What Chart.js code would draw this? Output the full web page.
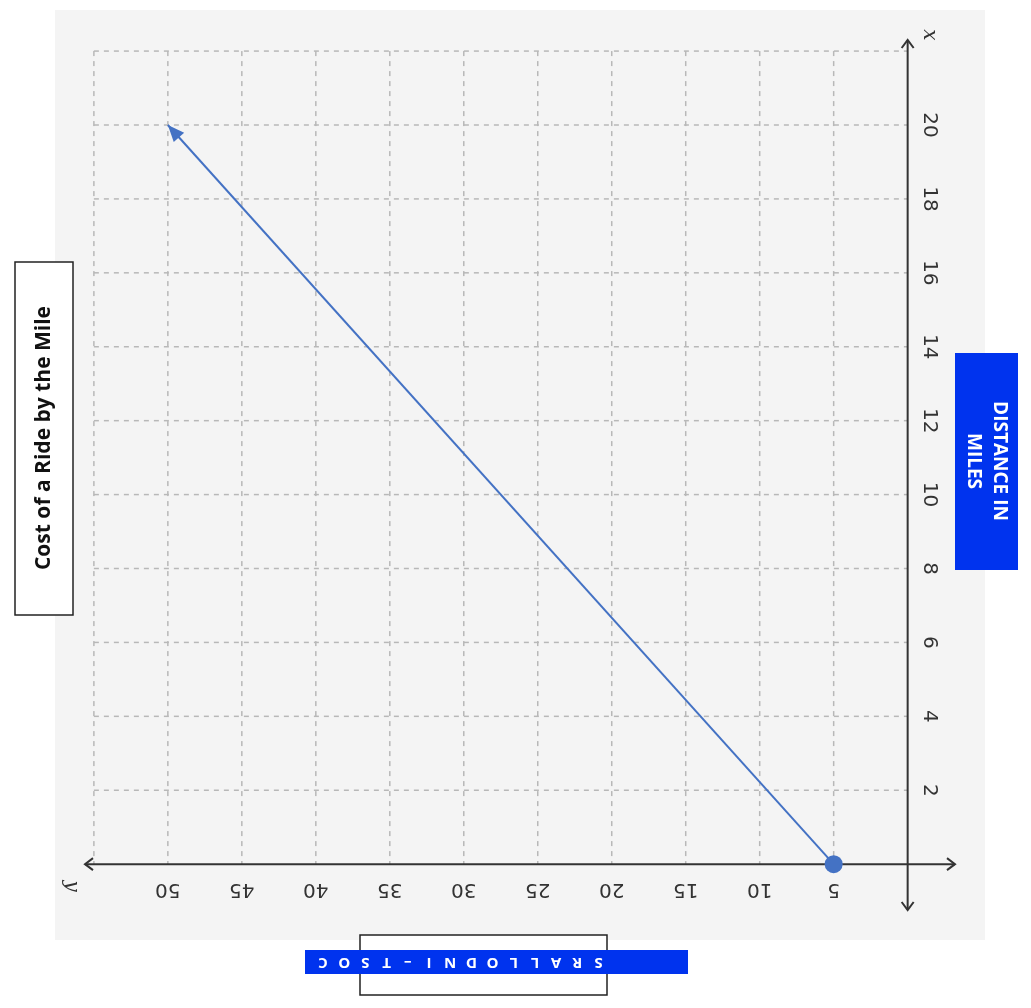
<!DOCTYPE html>
<html><head><meta charset="utf-8">
<script src="https://cdn.jsdelivr.net/npm/chart.js@4"></script>
<style>html,body{margin:0;padding:0;background:#fff}canvas{display:block}</style>
</head><body>
<div style="width:1031px;height:1008px"><canvas id="c"></canvas></div>
<script>
const costTicks = [5,10,15,20,25,30,35,40,45,50];
const costGrid = [5,10,15,20,25,30,35,40,45,50,55];
const mileTicks = [2,4,6,8,10,12,14,16,18,20];
const mileGrid = [2,4,6,8,10,12,14,16,18,20,22];
const lineCost = [5,50];
const lineMiles = [0,20];
const title = "Cost of a Ride by the Mile";
const xTitle = "COST – IN DOLLARS";
const yTitle = ["DISTANCE IN","MILES"];

const deco = {
  id:'deco',
  beforeDraw(ch){
    const c=ch.ctx, X=ch.scales.x, Y=ch.scales.y;
    c.save();
    c.fillStyle='#f4f4f4'; c.fillRect(55,10,930,930);
    // grid
    c.strokeStyle='#b8b8b8'; c.lineWidth=1.5; c.setLineDash([5,5]);
    const gx0=X.getPixelForValue(55), gx1=X.getPixelForValue(0);
    const gy0=Y.getPixelForValue(22), gy1=Y.getPixelForValue(0);
    costGrid.forEach(v=>{const p=X.getPixelForValue(v);c.beginPath();c.moveTo(p,gy0);c.lineTo(p,gy1);c.stroke();});
    mileGrid.forEach(v=>{const p=Y.getPixelForValue(v);c.beginPath();c.moveTo(gx0,p);c.lineTo(gx1,p);c.stroke();});
    c.setLineDash([]);
    // axes
    c.strokeStyle='#333'; c.lineWidth=2;
    const ax=X.getPixelForValue(0), ay=Y.getPixelForValue(0);
    c.beginPath();c.moveTo(X.left,ay);c.lineTo(X.right,ay);c.moveTo(ax,Y.top);c.lineTo(ax,Y.bottom);c.stroke();
    const arr=(x,y,dx,dy)=>{c.beginPath();c.moveTo(x+dx*8-dy*6,y+dy*8+dx*6);c.lineTo(x,y);c.lineTo(x+dx*8+dy*6,y+dy*8-dx*6);c.stroke();};
    arr(X.left,ay,1,0);arr(X.right,ay,-1,0);arr(ax,Y.top,0,1);arr(ax,Y.bottom,0,-1);
    // tick labels
    c.fillStyle='#333'; c.font='20px "DejaVu Sans"'; c.textAlign='center'; c.textBaseline='middle';
    costTicks.forEach(v=>{c.save();c.translate(X.getPixelForValue(v),ay+25);c.rotate(Math.PI);c.fillText(String(v),0,0);c.restore();});
    mileTicks.forEach(v=>{c.save();c.translate(ax+22,Y.getPixelForValue(v));c.rotate(Math.PI/2);c.fillText(String(v),0,0);c.restore();});
    c.font='italic 20px "DejaVu Serif"';
    c.save();c.translate(ax+22,Y.top-5);c.rotate(Math.PI/2);c.fillText('x',0,0);c.restore();
    c.save();c.translate(X.left-14,ay+22);c.rotate(Math.PI/2);c.fillText('y',0,0);c.restore();
    // title box
    c.fillStyle='#fff';c.fillRect(15,262,58,353);c.strokeStyle='#222';c.lineWidth=1.5;c.strokeRect(15,262,58,353);
    c.fillStyle='#111';c.font='bold 21px "Open Sans"';
    c.save();c.translate(44,438);c.rotate(-Math.PI/2);c.fillText(title,0,0);c.restore();
    // y title
    c.fillStyle='#0033ee';c.fillRect(955,353,63,217);
    c.fillStyle='#fff';c.font='bold 19px "Open Sans"';
    c.save();c.translate(986,461);c.rotate(Math.PI/2);c.fillText(yTitle[0],0,-13);c.fillText(yTitle[1],0,13);c.restore();
    // x title
    c.fillStyle='#fff';c.fillRect(360,935,247,60);c.strokeStyle='#222';c.strokeRect(360,935,247,60);
    c.fillStyle='#0033ee';c.fillRect(305,950,383,24);
    c.fillStyle='#fff';c.font='bold 15px "Open Sans"';
    const chars=xTitle.replace(/ /g,'').split('');
    chars.forEach((ch2,i)=>{c.save();c.translate(323+i*21.2,962);c.rotate(Math.PI);c.fillText(ch2,0,0);c.restore();});
    c.restore();
  },
  afterDatasetsDraw(ch){
    const c=ch.ctx,X=ch.scales.x,Y=ch.scales.y;
    const x0=X.getPixelForValue(lineCost[0]),y0=Y.getPixelForValue(lineMiles[0]);
    const x1=X.getPixelForValue(lineCost[1]),y1=Y.getPixelForValue(lineMiles[1]);
    const a=Math.atan2(y1-y0,x1-x0);
    c.save();c.fillStyle='#4472c4';c.beginPath();c.moveTo(x1,y1);
    c.lineTo(x1-18*Math.cos(a-0.4),y1-18*Math.sin(a-0.4));
    c.lineTo(x1-18*Math.cos(a+0.4),y1-18*Math.sin(a+0.4));c.closePath();c.fill();c.restore();
  }
};

new Chart(document.getElementById('c'),{
  type:'scatter',
  data:{datasets:[{data:lineCost.map((v,i)=>({x:v,y:lineMiles[i]})),showLine:true,
    borderColor:'#4472c4',backgroundColor:'#4472c4',borderWidth:2,pointRadius:[9,0],pointBorderWidth:0}]},
  options:{responsive:true,maintainAspectRatio:false,animation:false,
    layout:{padding:{left:85,right:76,top:40,bottom:98}},
    plugins:{legend:{display:false},tooltip:{enabled:false}},
    scales:{x:{type:'linear',reverse:true,min:-3.2,max:55.6,display:false},
            y:{type:'linear',min:-1.24,max:22.3,display:false}}},
  plugins:[deco]
});
</script></body></html>
